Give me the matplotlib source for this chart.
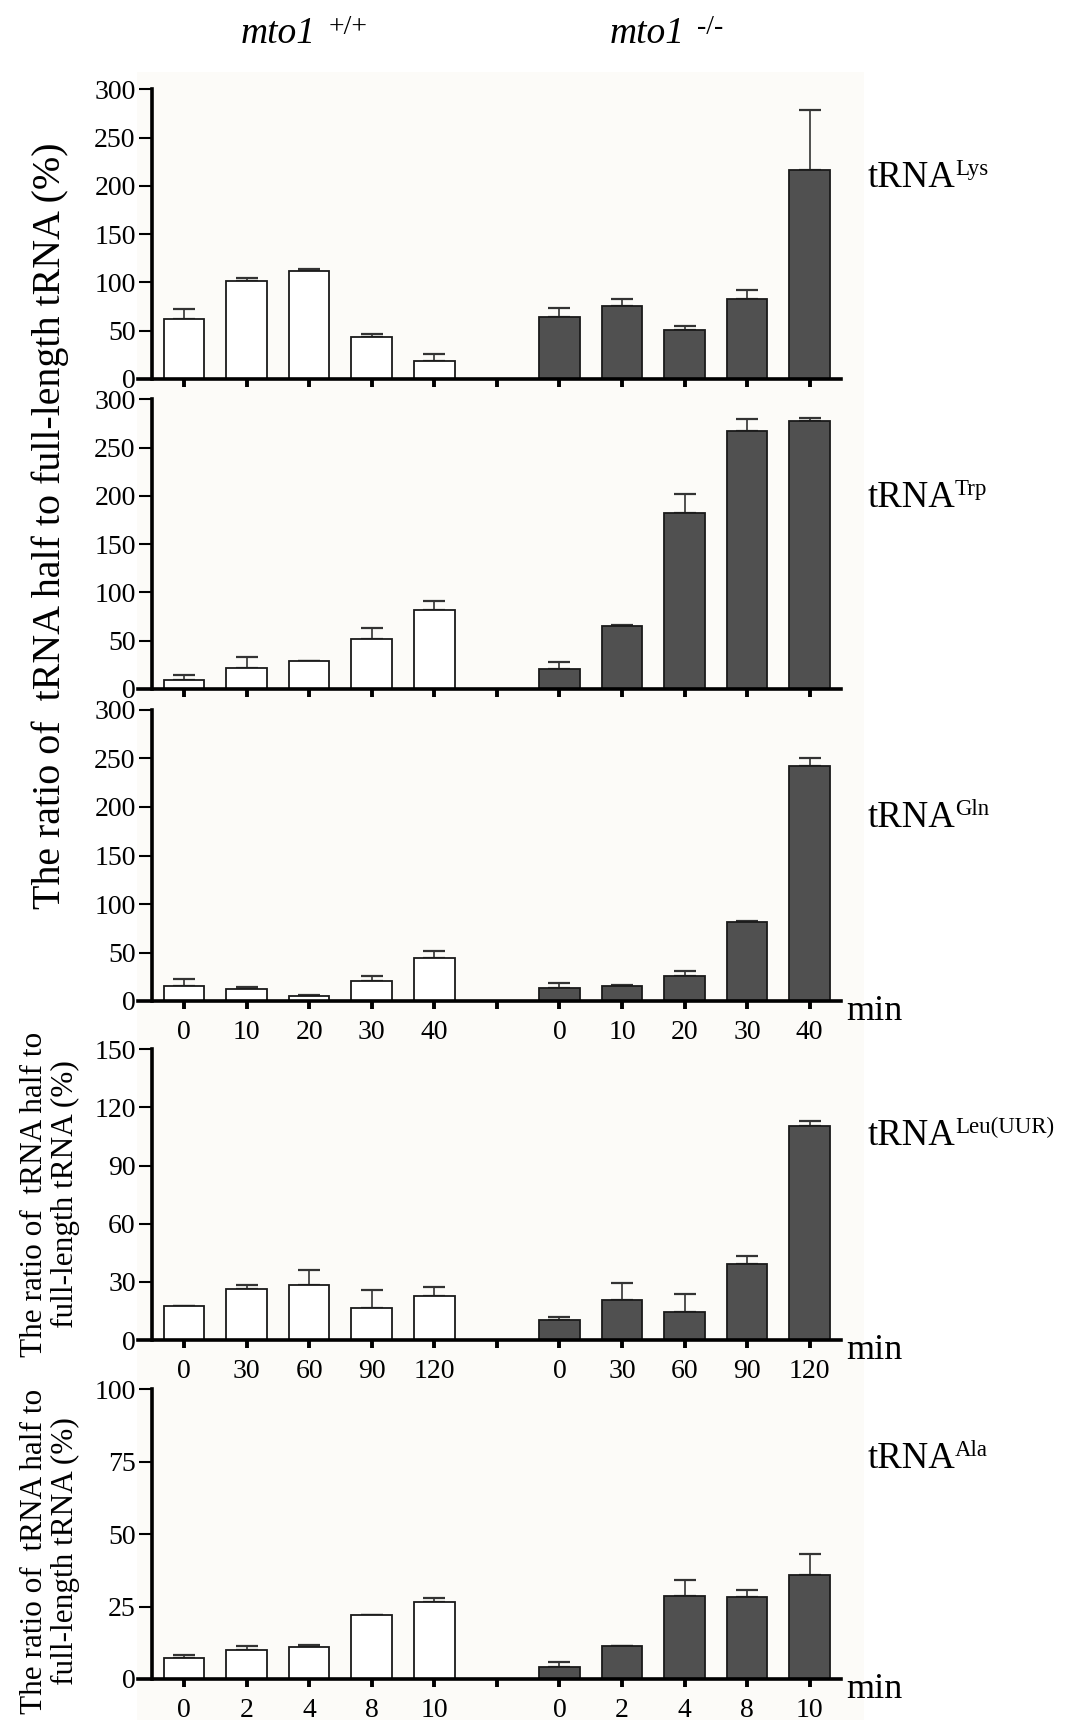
import numpy as np
import matplotlib
matplotlib.use("Agg")
import matplotlib.pyplot as plt
from matplotlib.patches import Rectangle

plt.rcParams['font.family'] = ['Liberation Serif', 'DejaVu Serif']

# bar positions: 5 wild type, gap, 5 knockout
pos_wt = [0, 1, 2, 3, 4]
pos_ko = [6, 7, 8, 9, 10]

# tRNA-Lys
lys_wt = [62, 102, 111.5, 44, 19]
lys_wt_err = [10, 3, 2.4, 3, 7]
lys_ko = [64, 76, 50.5, 83, 216]
lys_ko_err = [9.3, 7, 4.8, 9, 62.6]

# tRNA-Trp
trp_wt = [9.3, 21.4, 29, 51.4, 81.5]
trp_wt_err = [5.2, 11.4, 0, 11.7, 10]
trp_ko = [20.4, 64.9, 182, 267, 278]
trp_ko_err = [7.2, 1, 20.4, 12.4, 2.4]

# tRNA-Gln
gln_wt = [15.8, 12, 5.5, 21, 44]
gln_wt_err = [7.2, 2.8, 1, 4.8, 7.9]
gln_ko = [13.7, 15.5, 25.4, 81.8, 242]
gln_ko_err = [4.9, 1.3, 5.9, 0.3, 8.6]

# tRNA-Leu(UUR)
leu_wt = [17.4, 26.5, 28.2, 16.7, 22.9]
leu_wt_err = [0, 1.9, 8.1, 8.9, 4.5]
leu_ko = [10.1, 20.6, 14.6, 39.4, 110.3]
leu_ko_err = [1.9, 8.8, 9.1, 3.8, 2.7]

# tRNA-Ala
ala_wt = [7.1, 9.9, 10.9, 22.1, 26.6]
ala_wt_err = [1.1, 1.5, 0.8, 0, 1.4]
ala_ko = [4.1, 11.5, 28.7, 28.2, 35.9]
ala_ko_err = [1.8, 0, 5.4, 2.5, 7.4]

time_gln = ['0', '10', '20', '30', '40']
time_leu = ['0', '30', '60', '90', '120']
time_ala = ['0', '2', '4', '8', '10']

W = 1069.0
H = 1720.0
fig = plt.figure(figsize=(W / 100, H / 100), dpi=100)
fig.patch.set_facecolor('white')

# faint background like the scanned figure
for (y0, y1) in [(72, 1042), (1042, 1382), (1382, 1720)]:
    fig.patches.append(Rectangle((137 / W, 1 - y1 / H), (864 - 137) / W, (y1 - y0) / H,
                                 transform=fig.transFigure, facecolor='#fcfbf8',
                                 edgecolor='none', zorder=-5))

panels = [
    (lys_wt, lys_wt_err, lys_ko, lys_ko_err, 300, 50, 89.3, 379, None, 'Lys', 186.7),
    (trp_wt, trp_wt_err, trp_ko, trp_ko_err, 300, 50, 399.3, 689, None, 'Trp', 506.7),
    (gln_wt, gln_wt_err, gln_ko, gln_ko_err, 300, 50, 710, 1001, time_gln, 'Gln', 826.7),
    (leu_wt, leu_wt_err, leu_ko, leu_ko_err, 150, 30, 1049.3, 1340, time_leu, 'Leu(UUR)', 1145),
    (ala_wt, ala_wt_err, ala_ko, ala_ko_err, 100, 25, 1389.3, 1679, time_ala, 'Ala', 1468),
]

left_px = 138
right_px = 841
for (wt, wte, ko, koe, ymax, ystep, top, bot, tlabels, sup, base) in panels:
    ax = fig.add_axes([left_px / W, 1 - bot / H, (right_px - left_px) / W, (bot - top) / H])
    ax.set_facecolor('none')
    ax.bar(pos_wt, wt, width=0.65, color='white', edgecolor='#1a1a1a', linewidth=1.3, zorder=2)
    ax.bar(pos_ko, ko, width=0.65, color='#505050', edgecolor='#1a1a1a', linewidth=1.3, zorder=2)
    ax.errorbar(pos_wt, wt, yerr=[np.zeros(5), wte], fmt='none', ecolor='#333333',
                elinewidth=1.2, capsize=7.8, capthick=1.6, zorder=1)
    ax.errorbar(pos_ko, ko, yerr=[np.zeros(5), koe], fmt='none', ecolor='#333333',
                elinewidth=1.2, capsize=7.8, capthick=1.6, zorder=1)
    ax.set_xlim(-0.735, 10.5)
    ax.set_ylim(0, ymax)
    ax.spines['top'].set_visible(False)
    ax.spines['right'].set_visible(False)
    ax.spines['left'].set_position(('data', -0.516))
    ax.spines['left'].set_linewidth(2.6)
    ax.spines['bottom'].set_linewidth(2.6)
    ax.set_yticks(np.arange(0, ymax + 1, ystep))
    ax.tick_params(axis='y', direction='out', length=9.5, width=1.5, pad=2, labelsize=20)
    ax.set_xticks(range(11))
    if tlabels is None:
        ax.set_xticklabels([''] * 11)
    else:
        ax.set_xticklabels(tlabels + [''] + tlabels)
    ax.tick_params(axis='x', direction='out', length=6, width=2.8, pad=8, labelsize=20)
    if tlabels is not None:
        fig.text(846 / W, 1 - (bot + 19) / H, 'min', fontsize=26, ha='left', va='baseline')

    t = fig.text(868 / W, 1 - base / H, 'tRNA', fontsize=26.5, ha='left', va='baseline')
    ax.annotate(sup, xy=(1, 1), xycoords=t, xytext=(-0.5, 1), textcoords='offset points',
                fontsize=16.5, ha='left', va='top', annotation_clip=False)

# genotype titles
t1 = fig.text(241 / W, 1 - 43.3 / H, 'mto1', fontsize=27, style='italic', ha='left', va='baseline')
fig.axes[0].annotate('+/+', xy=(1, 1), xycoords=t1, xytext=(9, 1), textcoords='offset points',
                     fontsize=20, ha='left', va='top', annotation_clip=False)
t2 = fig.text(610 / W, 1 - 43.3 / H, 'mto1', fontsize=27, style='italic', ha='left', va='baseline')
fig.axes[0].annotate('-/-', xy=(1, 1), xycoords=t2, xytext=(9, 1), textcoords='offset points',
                     fontsize=20, ha='left', va='top', annotation_clip=False)

# y labels
fig.text(50 / W, 1 - 526 / H, 'The ratio of  tRNA half to full-length tRNA (%)',
         rotation=90, fontsize=28.8, ha='center', va='center')
fig.text(50 / W, 1 - 1194 / H, 'The ratio of  tRNA half to\nfull-length tRNA (%)',
         rotation=90, fontsize=22.5, ha='center', va='center', multialignment='center',
         linespacing=1.05)
fig.text(50 / W, 1 - 1551 / H, 'The ratio of  tRNA half to\nfull-length tRNA (%)',
         rotation=90, fontsize=22.5, ha='center', va='center', multialignment='center',
         linespacing=1.05)

plt.savefig('out.png', dpi=100)
plt.close()
